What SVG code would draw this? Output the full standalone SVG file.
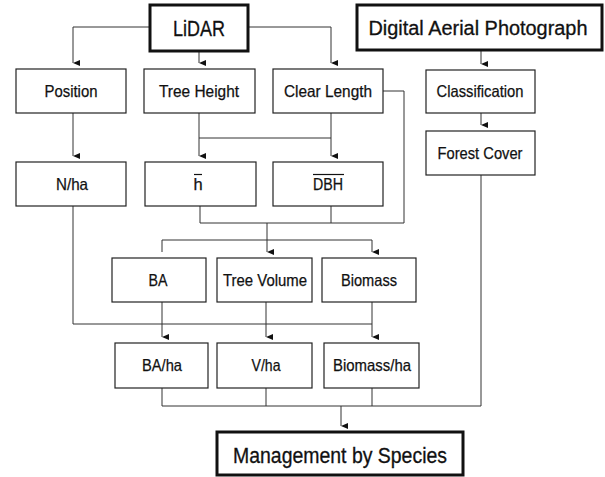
<svg xmlns="http://www.w3.org/2000/svg" width="605" height="477" viewBox="0 0 605 477">
<defs>
<marker id="ah" viewBox="0 0 6 7" refX="3" refY="7" markerWidth="6" markerHeight="7" orient="auto-start-reverse" markerUnits="userSpaceOnUse">
<path d="M0,0 L6,0 L3,7 Z" fill="#111"/>
</marker>
<style>
.b{fill:#fff;stroke:#222;stroke-width:1.2}
.k{fill:#fff;stroke:#111;stroke-width:3}
.t{font-family:"Liberation Sans",Arial,sans-serif;font-size:16.5px;fill:#111;text-anchor:middle;stroke:#111;stroke-width:0.25}
.T{font-family:"Liberation Sans",Arial,sans-serif;font-size:22px;fill:#111;text-anchor:middle;stroke:#111;stroke-width:0.3}
.c{fill:none;stroke:#333;stroke-width:1}
.o{stroke:#111;stroke-width:1.2}
</style>
</defs>
<rect width="605" height="477" fill="#fff"/>
<g id="connectors">
<path class="c" d="M150,27 H73 V63" marker-end="url(#ah)"/>
<path class="c" d="M199,51 V63" marker-end="url(#ah)"/>
<path class="c" d="M248,27 H331 V63" marker-end="url(#ah)"/>
<path class="c" d="M481,50 V64" marker-end="url(#ah)"/>
<path class="c" d="M481,113 V125" marker-end="url(#ah)"/>
<path class="c" d="M73,113 V156" marker-end="url(#ah)"/>
<path class="c" d="M199,113 V156" marker-end="url(#ah)"/>
<path class="c" d="M199,138 H331"/>
<path class="c" d="M331,113 V156" marker-end="url(#ah)"/>
<path class="c" d="M383,91 H404 V223 H200 V206"/>
<path class="c" d="M331,206 V223"/>
<path class="c" d="M267,223 V252" marker-end="url(#ah)"/>
<path class="c" d="M162,252 V240 H372 V252" marker-end="url(#ah)"/>
<path class="c" d="M73,206 V324 H372"/>
<path class="c" d="M162,302 V337" marker-end="url(#ah)"/>
<path class="c" d="M266,302 V337" marker-end="url(#ah)"/>
<path class="c" d="M372,302 V337" marker-end="url(#ah)"/>
<path class="c" d="M481,175 V406 H162 V388"/>
<path class="c" d="M266,388 V406"/>
<path class="c" d="M372,388 V406"/>
<path class="c" d="M341,406 V426" marker-end="url(#ah)"/>
</g>
<g id="lidar"><rect class="k" x="150" y="5" width="98" height="46"/><text class="T" x="199" y="35.5" textLength="52" lengthAdjust="spacingAndGlyphs">LiDAR</text></g>
<g id="dap"><rect class="k" x="357" y="5" width="245" height="45"/><text class="T" x="478" y="35" style="font-size:20px" textLength="219" lengthAdjust="spacingAndGlyphs">Digital Aerial Photograph</text></g>
<g id="position"><rect class="b" x="16" y="69" width="110" height="44"/><text class="t" x="71" y="97" textLength="53" lengthAdjust="spacingAndGlyphs">Position</text></g>
<g id="treeheight"><rect class="b" x="144" y="69" width="111" height="44"/><text class="t" x="199" y="97" textLength="80" lengthAdjust="spacingAndGlyphs">Tree Height</text></g>
<g id="clearlength"><rect class="b" x="273" y="69" width="110" height="44"/><text class="t" x="328" y="97" textLength="88" lengthAdjust="spacingAndGlyphs">Clear Length</text></g>
<g id="classification"><rect class="b" x="426" y="70" width="109" height="43"/><text class="t" x="480" y="97" textLength="87" lengthAdjust="spacingAndGlyphs">Classification</text></g>
<g id="forestcover"><rect class="b" x="426" y="131" width="109" height="44"/><text class="t" x="480" y="159" textLength="85" lengthAdjust="spacingAndGlyphs">Forest Cover</text></g>
<g id="nha"><rect class="b" x="16" y="162" width="110" height="44"/><text class="t" x="72" y="190" textLength="32" lengthAdjust="spacingAndGlyphs">N/ha</text></g>
<g id="hbar"><rect class="b" x="145" y="162" width="111" height="44"/><text class="t" x="198" y="190">h</text><line class="o" x1="194" y1="174.5" x2="202" y2="174.5"/></g>
<g id="dbh"><rect class="b" x="273" y="162" width="110" height="44"/><text class="t" x="328" y="190" textLength="30" lengthAdjust="spacingAndGlyphs">DBH</text><line class="o" x1="313" y1="174.5" x2="344" y2="174.5"/></g>
<g id="ba"><rect class="b" x="112" y="258" width="94" height="44"/><text class="t" x="158" y="286" textLength="19" lengthAdjust="spacingAndGlyphs">BA</text></g>
<g id="treevolume"><rect class="b" x="217" y="258" width="95" height="44"/><text class="t" x="265" y="286" textLength="84" lengthAdjust="spacingAndGlyphs">Tree Volume</text></g>
<g id="biomass"><rect class="b" x="322" y="258" width="94" height="44"/><text class="t" x="369" y="286" textLength="56" lengthAdjust="spacingAndGlyphs">Biomass</text></g>
<g id="baha"><rect class="b" x="115" y="343" width="93" height="45"/><text class="t" x="162" y="371" textLength="40" lengthAdjust="spacingAndGlyphs">BA/ha</text></g>
<g id="vha"><rect class="b" x="217" y="343" width="95" height="45"/><text class="t" x="266" y="371" textLength="29" lengthAdjust="spacingAndGlyphs">V/ha</text></g>
<g id="biomassha"><rect class="b" x="324" y="343" width="95" height="45"/><text class="t" x="372" y="371" textLength="78" lengthAdjust="spacingAndGlyphs">Biomass/ha</text></g>
<g id="management"><rect class="k" x="217" y="432" width="246" height="43"/><text class="T" x="340" y="463" textLength="214" lengthAdjust="spacingAndGlyphs">Management by Species</text></g>
</svg>
